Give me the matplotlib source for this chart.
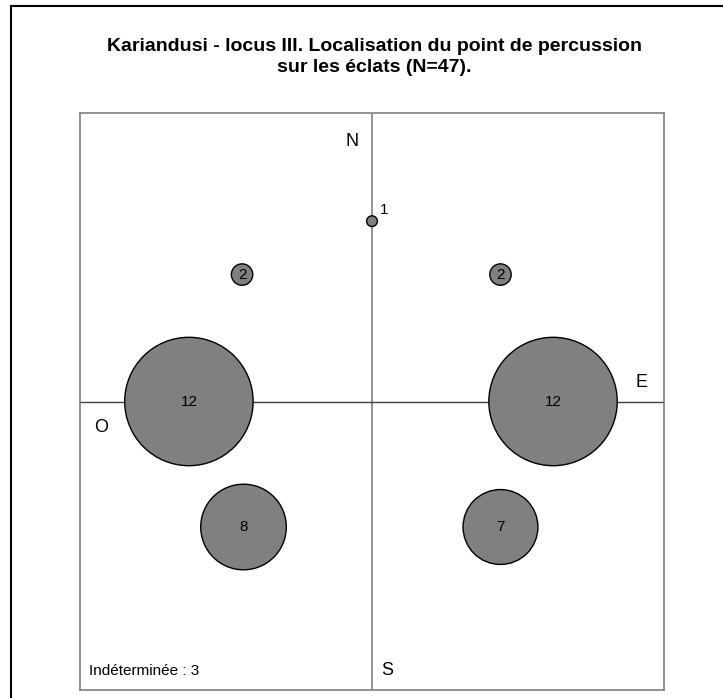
import matplotlib
matplotlib.use("Agg")
import matplotlib.pyplot as plt
from matplotlib.patches import Rectangle

plt.rcParams['font.family'] = ['Liberation Sans', 'DejaVu Sans']

# bubble positions (quadrant diagram, centre = 0,0) and counts
xs = [0.0, -0.445, 0.44, -0.627, 0.62, -0.44, 0.44]
ys = [0.625, 0.44, 0.44, 0.0, 0.0, -0.435, -0.435]
counts = [1, 2, 2, 12, 12, 8, 7]
undetermined = 3
total = 47

fig = plt.figure(figsize=(7.23, 6.98), dpi=100)

# outer frame, only top and left edges are visible in the original
fig.patches.append(Rectangle((11 / 723, -0.2), 1.2, 1.2 - 6 / 698,
                             transform=fig.transFigure, fill=False,
                             edgecolor='black', lw=1.5))

fig.text(374 / 723, 1 - 51 / 698,
         "Kariandusi - locus III. Localisation du point de percussion",
         ha='center', va='baseline', fontsize=14, fontweight='bold')
fig.text(374 / 723, 1 - 72 / 698, f"sur les éclats (N={total}).",
         ha='center', va='baseline', fontsize=14, fontweight='bold')

ax = fig.add_axes([80 / 723, 1 - 690 / 698, 584 / 723, 577 / 698])
ax.set_xlim(-1, 1)
ax.set_ylim(-1, 1)
ax.set_xticks([])
ax.set_yticks([])
for sp in ax.spines.values():
    sp.set_color('#808080')
    sp.set_linewidth(1.2)

ax.axvline(0, color='#808080', lw=1.2, zorder=1)
ax.axhline(0, color='#404040', lw=1.0, zorder=1)

# diameter proportional to the count (~10.7 px per unit)
px_per_unit = 10.7
sizes = [(c * px_per_unit * 0.72) ** 2 for c in counts]
ax.scatter(xs, ys, s=sizes, c='#808080', edgecolors='black',
           linewidths=1.0, zorder=3)

for x, y, c in zip(xs, ys, counts):
    if c == 1:
        ax.annotate(str(c), (x, y), xytext=(5.5, 8), textcoords='offset points',
                    ha='left', va='center', fontsize=11, zorder=4)
    else:
        ax.text(x, y, str(c), ha='center', va='center', fontsize=11, zorder=4)

ax.text(-0.045, 0.9, "N", ha='right', va='center', fontsize=13)
ax.text(0.945, 0.066, "E", ha='right', va='center', fontsize=13)
ax.text(-0.95, -0.09, "O", ha='left', va='center', fontsize=13)
ax.text(0.03, -0.934, "S", ha='left', va='center', fontsize=13)
ax.text(-0.97, -0.934, f"Indéterminée : {undetermined}", ha='left',
        va='center', fontsize=11)

fig.savefig("out.png", dpi=100)
